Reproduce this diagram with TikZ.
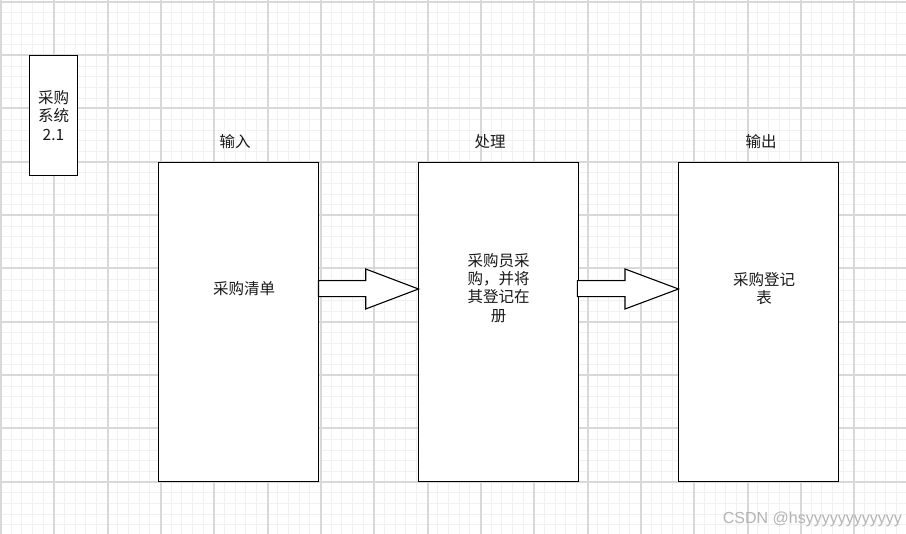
\documentclass[tikz,border=0pt]{standalone}
\usepackage{fontspec}
\setmainfont{Noto Sans CJK SC}
\newfontfamily\wmfont{Liberation Sans}
\definecolor{minorgrid}{HTML}{F1F1F1}
\definecolor{majorgrid}{HTML}{D8D8D8}
\definecolor{wmgray}{HTML}{B4B4B4}
\begin{document}
\begin{tikzpicture}[x=1pt,y=-1pt,
  box/.style={draw=black,fill=white,line width=1.4pt,inner sep=0pt},
  lbl/.style={font=\fontsize{15.5}{18.3}\selectfont,align=center,inner sep=0pt,text=black!90},
  fatarrow/.style={draw=black,fill=white,line width=1.1pt,line join=miter}]
\useasboundingbox (0,0) rectangle (906,534);
\fill[white] (0,0) rectangle (906,534);
% minor grid
\foreach \i in {0,...,85} {
  \pgfmathsetmacro\xx{round(\i*10.6667)+0.5}
  \draw[minorgrid,line width=1.6pt] (\xx,0) -- (\xx,534);
}
\foreach \j in {0,...,50} {
  \pgfmathsetmacro\yy{round(1.67+\j*10.6667)+0.5}
  \draw[minorgrid,line width=1.6pt] (0,\yy) -- (906,\yy);
}
% major grid
\foreach \i in {0,...,17} {
  \pgfmathsetmacro\xx{round(\i*53.3333)+0.5}
  \draw[majorgrid,line width=2pt] (\xx,0) -- (\xx,534);
}
\foreach \j in {0,...,10} {
  \pgfmathsetmacro\yy{round(1.67+\j*53.3333)+0.5}
  \draw[majorgrid,line width=2pt] (0,\yy) -- (906,\yy);
}
% small box
\draw[box] (29.5,55.5) rectangle (77.5,175.5);
\node[lbl] (sys) at (53.5,115.5) {采购\\系统\\2.1};
% main boxes
\draw[box] (158.5,162.5) rectangle (318.5,481.5);
\draw[box] (418.5,162.5) rectangle (578.5,481.5);
\draw[box] (678.5,162.5) rectangle (838.5,481.5);
\coordinate (b1e) at (318.5,289);
\coordinate (b2w) at (418.5,289);
\coordinate (b2e) at (578.5,289);
\coordinate (b3w) at (678.5,289);
\node[lbl] (in) at (235,141.5) {输入};
\node[lbl] (proc) at (490,141.5) {处理};
\node[lbl] (out) at (761,141.5) {输出};
\node[lbl] (t1) at (244,289) {采购清单};
\node[lbl] (t2) at (498.5,288) {采购员采\\购，并将\\其登记在\\册};
\node[lbl] (t3) at (764,288.5) {采购登记\\表};
% fat arrows
\draw[fatarrow] (b1e) ++(0,-8.3) -- (365.7,280.7) -- (365.7,269) -- (b2w) -- (365.7,309) -- (365.7,296.7) -- (318.5,296.7) -- cycle;
\draw[fatarrow] (577.3,280.7) -- (625,280.7) -- (625,269) -- (b3w) -- (625,309) -- (625,296.7) -- (577.3,296.7) -- cycle;
% watermark
\node[anchor=east,inner sep=0pt,text=wmgray,font=\wmfont\fontsize{16}{18}\selectfont] (wm) at (902,519) {CSDN @hsyyyyyyyyyyyy};
\end{tikzpicture}
\end{document}
